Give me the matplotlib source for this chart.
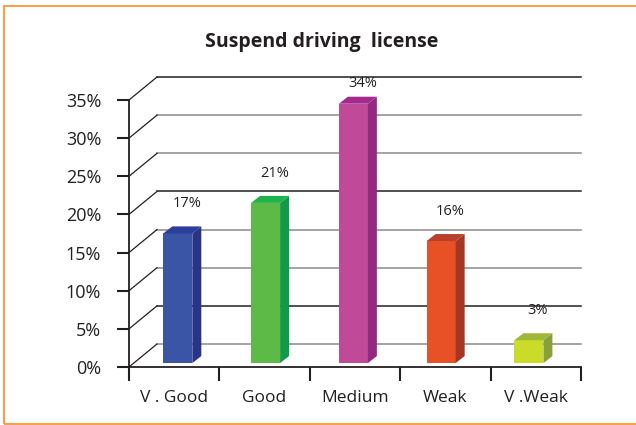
import matplotlib
matplotlib.use("Agg")
import matplotlib.pyplot as plt
from matplotlib.patches import Polygon, Rectangle

plt.rcParams['font.family'] = ['Open Sans', 'DejaVu Sans']

categories = ['V . Good', 'Good', 'Medium', 'Weak', 'V .Weak']
values = [17, 21, 34, 16, 3]
labels = ['17%', '21%', '34%', '16%', '3%']
yticks = [0, 5, 10, 15, 20, 25, 30, 35]
ytick_labels = ['0%', '5%', '10%', '15%', '20%', '25%', '30%', '35%']

front_colors = ['#3a55a6', '#5dba47', '#c04a98', '#e85126', '#cbdb2a']
side_colors = ['#2a3486', '#12994a', '#912a80', '#a33723', '#86a03c']
top_colors = ['#2c3e99', '#1db34a', '#a6298f', '#b9412b', '#a0b83a']

W, H = 636, 425
fig = plt.figure(figsize=(W / 100, H / 100), dpi=100)
fig.patch.set_facecolor('white')

# front plane of the plot in pixels
left, right, top, bottom = 129, 581, 100, 367
ax = fig.add_axes([left / W, 1 - bottom / H, (right - left) / W, (bottom - top) / H])
ax.set_xlim(0, len(categories))
ax.set_ylim(0, 35)
ax.set_facecolor('none')

# depth of the back wall in data units
ppx = (right - left) / len(categories)
ppy = (bottom - top) / 35
dx, dy = 28 / ppx, 23 / ppy

grid_dark = '#231f20'
grid_gray = '#8a8a8a'
grid_cols = [grid_gray, grid_dark, grid_gray, grid_gray, grid_dark, grid_gray, grid_gray, grid_dark]
for v, c in zip(yticks, grid_cols):
    ax.plot([dx, len(categories)], [v + dy, v + dy], color=c, lw=1.1, clip_on=False, zorder=1)
    ax.plot([0, dx], [v, v + dy], color=grid_dark, lw=0.9, clip_on=False, zorder=1)

# bars with a fake 3d look (bars sit slightly tighter than the category slots)
bw = 29 / ppx
sx, sy = 9 / ppx, 7 / ppy
step = 0.971
y0 = 0.17 * dy
for i, v in enumerate(values):
    xc = 0.54 + i * step
    x0 = xc - bw / 2
    ax.add_patch(Rectangle((x0, y0), bw, v, facecolor=front_colors[i], edgecolor='none',
                           clip_on=False, zorder=3))
    ax.add_patch(Polygon([(x0 + bw, y0), (x0 + bw + sx, y0 + sy), (x0 + bw + sx, y0 + v + sy),
                          (x0 + bw, y0 + v)], closed=True, facecolor=side_colors[i],
                         edgecolor='none', clip_on=False, zorder=3))
    ax.add_patch(Polygon([(x0, y0 + v), (x0 + sx, y0 + v + sy), (x0 + bw + sx, y0 + v + sy),
                          (x0 + bw, y0 + v)], closed=True, facecolor=top_colors[i],
                         edgecolor='none', clip_on=False, zorder=3))
    # labels hug the top of the chart area for the tallest bar
    ax.text(xc + 0.1, min(y0 + v + 3.9, 37.2), labels[i], ha='center', va='center',
            fontsize=10.5, color='#231f20', zorder=4)

for s in ['top', 'right']:
    ax.spines[s].set_visible(False)
for s in ['left', 'bottom']:
    ax.spines[s].set_color('#231f20')
    ax.spines[s].set_linewidth(1.3)

ax.set_yticks(yticks)
ax.set_yticklabels(ytick_labels, fontsize=13, color='#231f20')
ax.tick_params(axis='y', length=9, width=1.5, color='#231f20', pad=11)
ax.set_xticks(range(len(categories) + 1))
ax.set_xticklabels([''] * (len(categories) + 1))
ax.tick_params(axis='x', direction='out', length=10, width=1.5, color='#231f20')
for i, c in enumerate(categories):
    ax.text(i + 0.5, -4, c, ha='center', va='center', fontsize=12.5, color='#231f20', clip_on=False)

fig.text(322 / W, 1 - 42 / H, 'Suspend driving  license', ha='center', va='center',
         fontsize=14, fontweight='bold', color='#231f20')

# orange frame
frame = Rectangle((4 / W, 1 / H), 1.0, 1 - 7 / H, transform=fig.transFigure,
                  facecolor='none', edgecolor='#f7a24a', lw=1.5)
fig.patches.append(frame)

fig.savefig('out.png', dpi=100)
